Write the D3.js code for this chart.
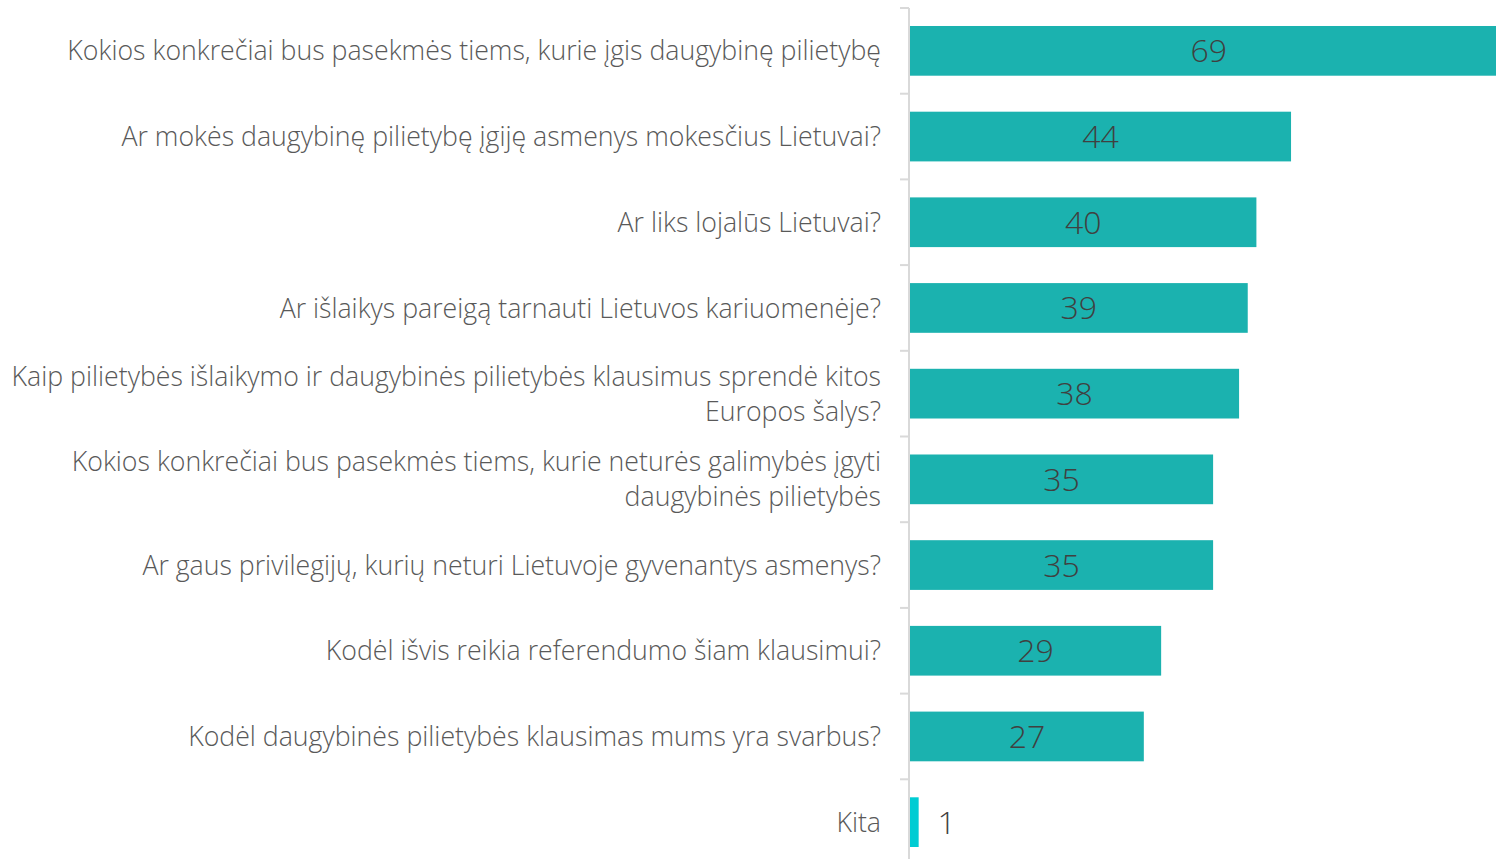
<!DOCTYPE html>
<html>
<head>
<meta charset="utf-8">
<script src="https://cdnjs.cloudflare.com/ajax/libs/d3/7.8.5/d3.min.js"></script>
<style>
  * { margin: 0; padding: 0; }
  body { background: #fff; overflow: hidden; }
  svg text { font-family: "Segoe UI", "Open Sans", "Noto Sans", sans-serif; font-weight: 300; }
</style>
</head>
<body>
<script>
// categories (line breaks as in the original labels)
var categories = [
    "Kokios konkrečiai bus pasekmės tiems, kurie įgis daugybinę pilietybę",
    "Ar mokės daugybinę pilietybę įgiję asmenys mokesčius Lietuvai?",
    "Ar liks lojalūs Lietuvai?",
    "Ar išlaikys pareigą tarnauti Lietuvos kariuomenėje?",
    "Kaip pilietybės išlaikymo ir daugybinės pilietybės klausimus sprendė kitos\nEuropos šalys?",
    "Kokios konkrečiai bus pasekmės tiems, kurie neturės galimybės įgyti\ndaugybinės pilietybės",
    "Ar gaus privilegijų, kurių neturi Lietuvoje gyvenantys asmenys?",
    "Kodėl išvis reikia referendumo šiam klausimui?",
    "Kodėl daugybinės pilietybės klausimas mums yra svarbus?",
    "Kita"
];
var values = [69, 44, 40, 39, 38, 35, 35, 29, 27, 1];

var width = 1496, height = 859;
var axisX = 909;

var svg = d3.select("body").append("svg")
    .attr("width", width)
    .attr("height", height);

var y = d3.scaleBand()
    .domain(categories)
    .range([8, 865])
    .paddingInner(0.42)
    .paddingOuter(0.21);

var x = d3.scaleLinear()
    .domain([0, 69])
    .range([axisX + 1, axisX + 1 + 69 * 8.66]);

var step = y.step();
var gap = step * y.paddingInner();

// bars
svg.selectAll(".bar")
    .data(values)
    .enter().append("rect")
    .attr("class", "bar")
    .attr("x", x(0))
    .attr("y", function(d, i) { return y(categories[i]); })
    .attr("width", function(d) { return x(d) - x(0); })
    .attr("height", y.bandwidth())
    .attr("fill", function(d, i) { return i == values.length - 1 ? "#00CCD3" : "#1BB2AF"; });

// value labels
svg.selectAll(".val")
    .data(values)
    .enter().append("text")
    .attr("class", "val")
    .attr("x", function(d, i) {
        if (i == values.length - 1) return x(d) + 28; // outside for tiny bar
        return (x(0) + x(d)) / 2;
    })
    .attr("y", function(d, i) { return y(categories[i]) + y.bandwidth() / 2; })
    .attr("dy", "0.36em")
    .attr("text-anchor", "middle")
    .style("font-size", "32px")
    .style("fill", "#404040")
    .text(function(d) { return d; });

// axis line + ticks at band boundaries
svg.append("line")
    .attr("x1", axisX).attr("x2", axisX)
    .attr("y1", 8).attr("y2", height)
    .attr("stroke", "#D9D9D9")
    .attr("stroke-width", 2);

svg.selectAll(".tick")
    .data(categories)
    .enter().append("line")
    .attr("class", "tick")
    .attr("x1", axisX - 9).attr("x2", axisX)
    .attr("y1", function(d) { return y(d) - gap / 2; })
    .attr("y2", function(d) { return y(d) - gap / 2; })
    .attr("stroke", "#D9D9D9")
    .attr("stroke-width", 2);

// category labels
var lab = svg.selectAll(".cat")
    .data(categories)
    .enter().append("text")
    .attr("class", "cat")
    .attr("text-anchor", "end")
    .style("font-size", "26.7px")
    .style("fill", "#595959")
    .attr("transform", function(d) {
        return "translate(881," + (y(d) + y.bandwidth() / 2) + ")";
    });

lab.each(function(d) {
    var lines = d.split("\n");
    var t = d3.select(this);
    lines.forEach(function(l, j) {
        t.append("tspan")
            .attr("x", 0)
            .attr("y", (j - (lines.length - 1) / 2) * 35)
            .attr("dy", "0.36em")
            .text(l);
    });
});
</script>
</body>
</html>
